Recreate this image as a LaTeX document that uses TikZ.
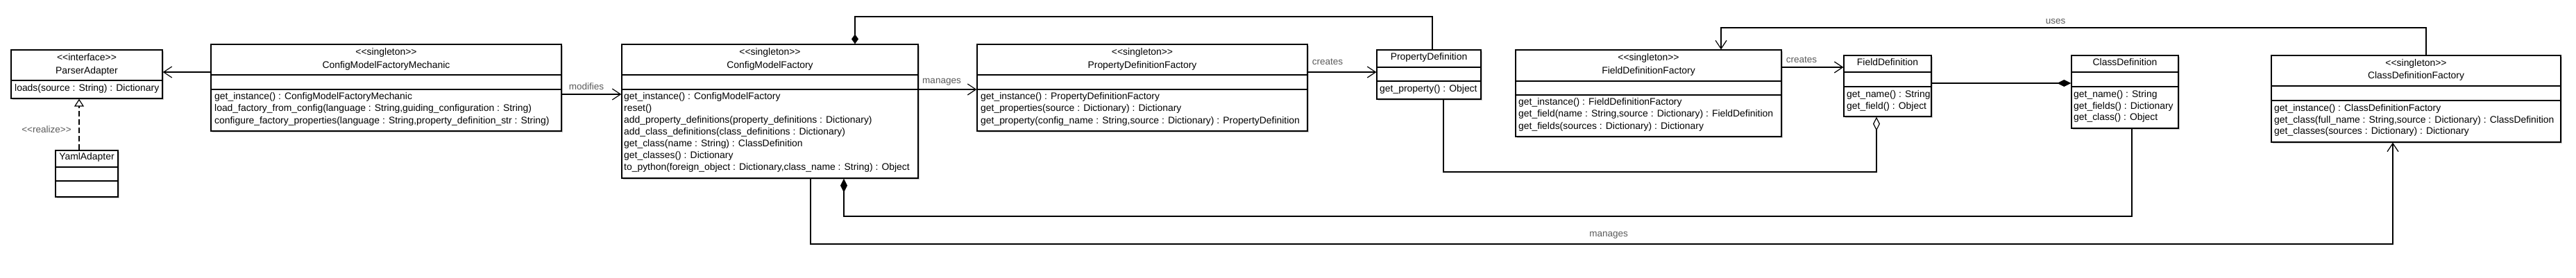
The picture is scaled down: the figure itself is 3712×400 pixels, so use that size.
\documentclass[tikz,border=0pt]{standalone}
\usepackage{fontspec}
\newfontfamily\uml{Liberation Sans}
\usetikzlibrary{arrows.meta,shadows}
\begin{document}
\begin{tikzpicture}[x=1pt,y=-1pt,
  every node/.style={inner sep=0pt, font=\uml\fontsize{13.9}{17}\selectfont},
  cls/.style={draw, line width=1.3pt, fill=white, drop shadow={shadow xshift=1.5pt,shadow yshift=-1.5pt,fill=black!35,opacity=0.6}},
  sep/.style={line width=1.3pt},
  ttl/.style={anchor=base},
  mth/.style={anchor=base west},
  lbl/.style={anchor=base, text=black!65, font=\uml\fontsize{13.5}{16}\selectfont},
  conn/.style={line width=1.2pt},
  oarr/.style={-{Straight Barb[length=12pt,width=16pt]}},
  realz/.style={dash pattern=on 8pt off 4pt, -{Triangle[open,length=11pt,width=14pt]}},
  compstart/.style={{Diamond[length=#1,width=10pt]}-},
  compend/.style={-{Diamond[length=#1,width=10pt]}},
  aggend/.style={-{Diamond[open,length=#1,width=10pt]}}
]
\useasboundingbox (0,0) rectangle (3712,400);

% ---------- ParserAdapter
\node[cls, minimum width=218pt, minimum height=70pt] (pa) at (125,107) {};
\draw[sep] (pa.west |- 0,116) -- (pa.east |- 0,116);
\node[ttl] (pa-st) at (125,87) {<<interface>>};
\node[ttl] (pa-nm) at (125,106) {ParserAdapter};
\node[mth] (pa-m1) at (21,131) {loads(source : String) : Dictionary};

% ---------- YamlAdapter
\node[cls, minimum width=90pt, minimum height=67pt] (ya) at (125,250.5) {};
\draw[sep] (ya.west |- 0,241) -- (ya.east |- 0,241);
\draw[sep] (ya.west |- 0,261) -- (ya.east |- 0,261);
\node[ttl] (ya-nm) at (125,230) {YamlAdapter};

% ---------- ConfigModelFactoryMechanic
\node[cls, minimum width=505pt, minimum height=125pt] (mech) at (556.5,126.5) {};
\draw[sep] (mech.west |- 0,108) -- (mech.east |- 0,108);
\draw[sep] (mech.west |- 0,129) -- (mech.east |- 0,129);
\node[ttl] (mech-st) at (556.5,79) {<<singleton>>};
\node[ttl] (mech-nm) at (556.5,98) {ConfigModelFactoryMechanic};
\node[mth] (mech-m1) at (309,143) {get\_instance() : ConfigModelFactoryMechanic};
\node[mth] (mech-m2) at (309,160.5) {load\_factory\_from\_config(language : String,guiding\_configuration : String)};
\node[mth] (mech-m3) at (309,178) {configure\_factory\_properties(language : String,property\_definition\_str : String)};

% ---------- ConfigModelFactory
\node[cls, minimum width=427pt, minimum height=193pt] (cmf) at (1109.5,160.5) {};
\draw[sep] (cmf.west |- 0,108) -- (cmf.east |- 0,108);
\draw[sep] (cmf.west |- 0,129) -- (cmf.east |- 0,129);
\node[ttl] (cmf-st) at (1109.5,79) {<<singleton>>};
\node[ttl] (cmf-nm) at (1109.5,98) {ConfigModelFactory};
\node[mth] (cmf-m1) at (899,143) {get\_instance() : ConfigModelFactory};
\node[mth] (cmf-m2) at (899,160.5) {reset()};
\node[mth] (cmf-m3) at (899,177.5) {add\_property\_definitions(property\_definitions : Dictionary)};
\node[mth] (cmf-m4) at (899,194.5) {add\_class\_definitions(class\_definitions : Dictionary)};
\node[mth] (cmf-m5) at (899,211.5) {get\_class(name : String) : ClassDefinition};
\node[mth] (cmf-m6) at (899,228.5) {get\_classes() : Dictionary};
\node[mth] (cmf-m7) at (899,245.5) {to\_python(foreign\_object : Dictionary,class\_name : String) : Object};

% ---------- PropertyDefinitionFactory
\node[cls, minimum width=476pt, minimum height=125pt] (pdf) at (1646,126.5) {};
\draw[sep] (pdf.west |- 0,108) -- (pdf.east |- 0,108);
\draw[sep] (pdf.west |- 0,129) -- (pdf.east |- 0,129);
\node[ttl] (pdf-st) at (1646,79) {<<singleton>>};
\node[ttl] (pdf-nm) at (1646,98) {PropertyDefinitionFactory};
\node[mth] (pdf-m1) at (1413,143) {get\_instance() : PropertyDefinitionFactory};
\node[mth] (pdf-m2) at (1413,160.5) {get\_properties(source : Dictionary) : Dictionary};
\node[mth] (pdf-m3) at (1413,178) {get\_property(config\_name : String,source : Dictionary) : PropertyDefinition};

% ---------- PropertyDefinition
\node[cls, minimum width=150pt, minimum height=71pt] (pd) at (2059,107.5) {};
\draw[sep] (pd.west |- 0,97) -- (pd.east |- 0,97);
\draw[sep] (pd.west |- 0,117) -- (pd.east |- 0,117);
\node[ttl] (pd-nm) at (2059,86) {PropertyDefinition};
\node[mth] (pd-m1) at (1988,132) {get\_property() : Object};

% ---------- FieldDefinitionFactory
\node[cls, minimum width=383pt, minimum height=125pt] (fdf) at (2375.5,134.5) {};
\draw[sep] (fdf.west |- 0,117) -- (fdf.east |- 0,117);
\draw[sep] (fdf.west |- 0,137) -- (fdf.east |- 0,137);
\node[ttl] (fdf-st) at (2375.5,87) {<<singleton>>};
\node[ttl] (fdf-nm) at (2375.5,106) {FieldDefinitionFactory};
\node[mth] (fdf-m1) at (2188,151) {get\_instance() : FieldDefinitionFactory};
\node[mth] (fdf-m2) at (2188,168.5) {get\_field(name : String,source : Dictionary) : FieldDefinition};
\node[mth] (fdf-m3) at (2188,186) {get\_fields(sources : Dictionary) : Dictionary};

% ---------- FieldDefinition
\node[cls, minimum width=126pt, minimum height=88pt] (fd) at (2720,124) {};
\draw[sep] (fd.west |- 0,104) -- (fd.east |- 0,104);
\draw[sep] (fd.west |- 0,125) -- (fd.east |- 0,125);
\node[ttl] (fd-nm) at (2720,94) {FieldDefinition};
\node[mth] (fd-m1) at (2661,140) {get\_name() : String};
\node[mth] (fd-m2) at (2661,157) {get\_field() : Object};

% ---------- ClassDefinition
\node[cls, minimum width=154pt, minimum height=105pt] (cd) at (3062,132.5) {};
\draw[sep] (cd.west |- 0,104) -- (cd.east |- 0,104);
\draw[sep] (cd.west |- 0,125) -- (cd.east |- 0,125);
\node[ttl] (cd-nm) at (3062,94) {ClassDefinition};
\node[mth] (cd-m1) at (2988,140) {get\_name() : String};
\node[mth] (cd-m2) at (2988,157) {get\_fields() : Dictionary};
\node[mth] (cd-m3) at (2988,173.5) {get\_class() : Object};

% ---------- ClassDefinitionFactory
\node[cls, minimum width=417pt, minimum height=125pt] (cdf) at (3481.5,142.5) {};
\draw[sep] (cdf.west |- 0,124) -- (cdf.east |- 0,124);
\draw[sep] (cdf.west |- 0,145) -- (cdf.east |- 0,145);
\node[ttl] (cdf-st) at (3481.5,95) {<<singleton>>};
\node[ttl] (cdf-nm) at (3481.5,113) {ClassDefinitionFactory};
\node[mth] (cdf-m1) at (3277,160) {get\_instance() : ClassDefinitionFactory};
\node[mth] (cdf-m2) at (3277,177) {get\_class(full\_name : String,source : Dictionary) : ClassDefinition};
\node[mth] (cdf-m3) at (3277,193.5) {get\_classes(sources : Dictionary) : Dictionary};

% ---------- connectors
\draw[conn, oarr] (mech.west |- 0,104) -- (pa.east |- 0,104);

\draw[conn, realz] (ya.north -| 114,0) -- (pa.south -| 114,0);
\node[lbl] (l-real) at (67,191.5) {<<realize>>};

\draw[conn, oarr] (mech.east |- 0,136) -- (cmf.west |- 0,136);
\node[lbl] (l-mod) at (845,129.5) {modifies};

\draw[conn, oarr] (cmf.east |- 0,129) -- (pdf.west |- 0,129);
\node[lbl] (l-man1) at (1357,120.5) {manages};

\draw[conn, oarr] (pdf.east |- 0,104) -- (pd.west |- 0,104);
\node[lbl] (l-cr1) at (1913,93.5) {creates};

\draw[conn, compstart=14pt] (cmf.north -| 1232,0) -- (1232,24) -| (pd.north -| 2064,0);

\draw[conn, aggend=20pt] (pd.south -| 2080,0) |- (2704,248) -- (fd.south -| 2704,0);

\draw[conn, oarr] (cdf.north -| 3496,0) -- (3496,40) -| (fdf.north -| 2480,0);
\node[lbl] (l-uses) at (2962,34.5) {uses};

\draw[conn, oarr] (fdf.east |- 0,97) -- (fd.west |- 0,97);
\node[lbl] (l-cr2) at (2596,90.5) {creates};

\draw[conn, compend=20pt] (fd.east |- 0,120) -- (cd.west |- 0,120);

\draw[conn, compstart=20pt] (cmf.south -| 1216,0) -- (1216,312) -| (cd.south -| 3072,0);

\draw[conn, oarr] (cmf.south -| 1168,0) -- (1168,352) -| (cdf.south -| 3448,0);
\node[lbl] (l-man2) at (2318,341.5) {manages};
\end{tikzpicture}
\end{document}
